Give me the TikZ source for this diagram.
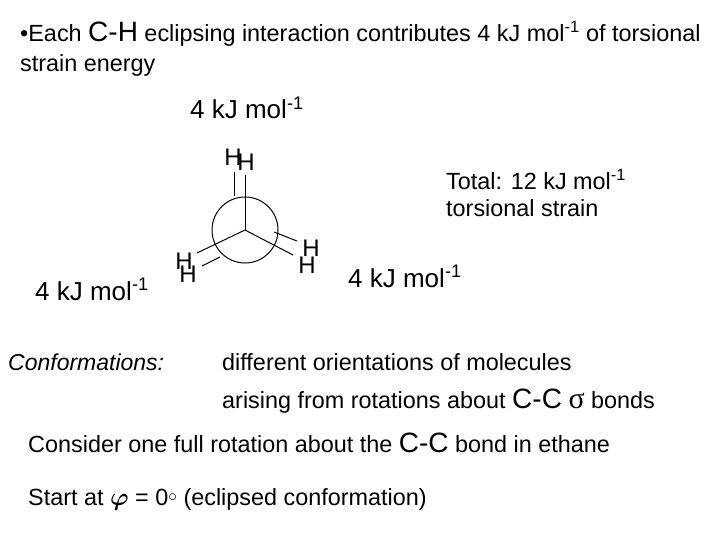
\documentclass[tikz,border=0pt]{standalone}
\usepackage{amsmath}
\usepackage{fontspec}
\setmainfont{Liberation Sans}
\newfontfamily\serifsym{Liberation Serif}
\begin{document}
\begin{tikzpicture}[x=1pt,y=-1pt,
  txt/.style={anchor=base west,inner sep=0pt,font=\fontsize{23.4}{26}\selectfont},
  big/.style={anchor=base west,inner sep=0pt,font=\fontsize{26}{28}\selectfont},
  hl/.style={inner sep=0pt,font=\fontsize{24}{26}\selectfont},
  bond/.style={line width=1pt}]
\useasboundingbox (0,0) rectangle (720,540);
\node[txt] (t1) at (20,42) {\textbullet Each {\fontsize{28}{28}\selectfont C-H} eclipsing interaction contributes 4 kJ mol\textsuperscript{-1} of torsional};
\node[txt] (t2) at (20,72) {strain energy};
\node[big] (e1) at (190,119) {4 kJ mol\textsuperscript{-1}};
\node[big] (e2) at (35,300) {4 kJ mol\textsuperscript{-1}};
\node[big] (e3) at (348,287) {4 kJ mol\textsuperscript{-1}};
\node[txt] (tot1) at (446,190) {Total: 12 kJ mol\textsuperscript{-1}};
\node[txt] (tot2) at (446,217) {torsional strain};
% Newman projection
\coordinate (c) at (245,230);
\node[draw,circle,minimum size=66pt,inner sep=0pt,line width=1pt] (circ) at (c) {};
\coordinate (f1) at (245,175);
\coordinate (f2) at (197,253);
\coordinate (f3) at (293,255);
\draw[line width=0.5pt] (c) -- (f1);
\draw[bond] (c) -- (f2);
\draw[bond] (c) -- (f3);
\coordinate (b1a) at (234,172); \coordinate (b1b) at (234,196);
\coordinate (b2a) at (202,266); \coordinate (b2b) at (220,257);
\coordinate (b3a) at (297,241); \coordinate (b3b) at (274,232);
\draw[bond] (b1a) -- (b1b);
\draw[bond] (b2a) -- (b2b);
\draw[bond] (b3a) -- (b3b);
\node[hl] (h1) at (233,157) {H};
\node[hl] (h2) at (246,162) {H};
\node[hl] (h3) at (184,261) {H};
\node[hl] (h4) at (188,274) {H};
\node[hl] (h5) at (311,248) {H};
\node[hl] (h6) at (307,265) {H};
% bottom text
\node[txt,font=\fontsize{23}{26}\selectfont\itshape] (conf) at (8,370) {Conformations:};
\node[txt] (d1) at (222,370) {different orientations of molecules};
\node[txt] (d2) at (222,408) {arising from rotations about {\fontsize{28}{28}\selectfont C-C} {\fontsize{30}{30}\selectfont\serifsym σ} bonds};
\node[txt] (c1) at (28,452) {Consider one full rotation about the {\fontsize{28}{28}\selectfont C-C} bond in ethane};
\node[txt] (s1) at (28,505) {Start at {\fontsize{32}{32}\selectfont$\boldsymbol{\varphi}$} = 0{\raisebox{4pt}{\fontsize{16}{16}\selectfont$\circ$}} (eclipsed conformation)};
\end{tikzpicture}
\end{document}
